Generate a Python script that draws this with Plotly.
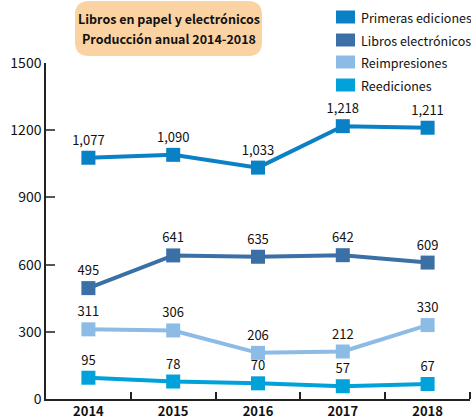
import plotly.graph_objects as go

# Production data, 2014-2018
years = [2014, 2015, 2016, 2017, 2018]
series_names = ["Primeras ediciones", "Libros electrónicos", "Reimpresiones", "Reediciones"]
primeras = [1077, 1090, 1033, 1218, 1211]
electronicos = [495, 641, 635, 642, 609]
reimpresiones = [311, 306, 206, 212, 330]
reediciones = [95, 78, 70, 57, 67]
y_ticks = [0, 300, 600, 900, 1200, 1500]
title_lines = ["Libros en papel y electrónicos", "Producción anual 2014-2018"]

colors = ["#0a80c5", "#3a70a5", "#8cbbe6", "#00a2d9"]
values = [primeras, electronicos, reimpresiones, reediciones]

W, H = 471, 420
L, R, T, B = 46, 1, 63, 21
PW, PH = W - L - R, H - T - B

def px(x):
    return (x - L) / PW

def py(y):
    return (H - B - y) / PH

FONT = "Noto Sans CJK SC, Roboto, sans-serif"

fig = go.Figure()
for name, vals, col in zip(series_names, values, colors):
    fig.add_trace(go.Scatter(
        x=years, y=vals, name=name,
        mode="lines+markers+text",
        line=dict(color=col, width=4),
        marker=dict(symbol="square", size=14, color=col),
        texttemplate="%{y:,}", textposition="top center",
        textfont=dict(family=FONT, size=13, color="#111"),
        cliponaxis=False, showlegend=False,
    ))

shapes = []
annotations = []

# Title box with rounded corners
bx0, bx1, by0, by1, r = 75, 262, 1, 56, 14
path = (f"M {px(bx0 + r)},{py(by0)} L {px(bx1 - r)},{py(by0)} "
        f"Q {px(bx1)},{py(by0)} {px(bx1)},{py(by0 + r)} "
        f"L {px(bx1)},{py(by1 - r)} Q {px(bx1)},{py(by1)} {px(bx1 - r)},{py(by1)} "
        f"L {px(bx0 + r)},{py(by1)} Q {px(bx0)},{py(by1)} {px(bx0)},{py(by1 - r)} "
        f"L {px(bx0)},{py(by0 + r)} Q {px(bx0)},{py(by0)} {px(bx0 + r)},{py(by0)} Z")
shapes.append(dict(type="path", xref="paper", yref="paper", path=path,
                   fillcolor="#fbd3a3", line=dict(width=0), layer="below"))
for line, yy in zip(title_lines, [18, 38]):
    annotations.append(dict(
        xref="paper", yref="paper", x=px((bx0 + bx1) / 2), y=py(yy),
        text=f"<b>{line}</b>",
        showarrow=False, xanchor="center", yanchor="middle", align="center",
        font=dict(family=FONT, size=12.5, color="#111")))

# Legend drawn as colour swatches with labels
leg_y = [17, 40, 62, 85]
for name, col, yy in zip(series_names, colors, leg_y):
    shapes.append(dict(type="rect", xref="paper", yref="paper",
                       x0=px(336), x1=px(355), y0=py(yy - 6.5), y1=py(yy + 6.5),
                       fillcolor=col, line=dict(width=0)))
    annotations.append(dict(xref="paper", yref="paper", x=px(359), y=py(yy),
                            text=name, showarrow=False, xanchor="left", yanchor="middle",
                            font=dict(family=FONT, size=12.5, color="#111")))

fig.update_layout(
    width=W, height=H,
    margin=dict(l=L, r=R, t=T, b=B),
    paper_bgcolor="white", plot_bgcolor="white",
    shapes=shapes, annotations=annotations,
    xaxis=dict(
        range=[2013.5, 2018.5], tickvals=years, ticktext=[f"<b>{y}</b>" for y in years],
        ticks="", showgrid=False, zeroline=False,
        showline=True, linecolor="#222", linewidth=1.5,
        tickfont=dict(family=FONT, size=13, color="#111"),
        minor=dict(tickvals=[2014.5, 2015.5, 2016.5, 2017.5, 2018.5],
                   ticks="inside", ticklen=7, tickcolor="#222", tickwidth=1.5,
                   showgrid=False),
        fixedrange=True,
    ),
    yaxis=dict(
        range=[0, 1500], tickvals=y_ticks, ticktext=[str(v) for v in y_ticks],
        ticks="inside", ticklen=9, tickcolor="#555", tickwidth=1.5,
        showgrid=False, zeroline=False,
        showline=True, linecolor="#222", linewidth=1.5,
        tickfont=dict(family=FONT, size=14, color="#111"),
        fixedrange=True,
    ),
)

fig.write_html("out.html")
